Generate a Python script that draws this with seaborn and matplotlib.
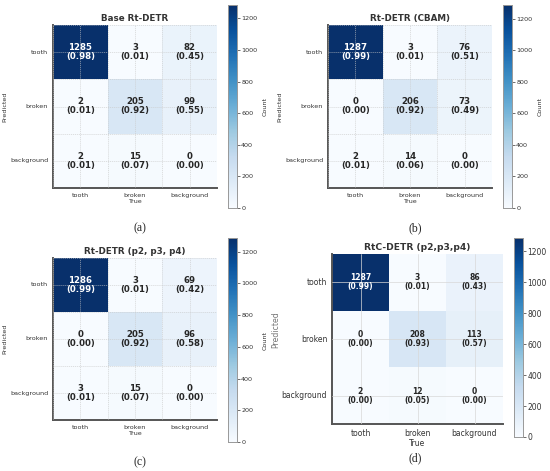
import numpy as np
import matplotlib
matplotlib.use("Agg")
import matplotlib.pyplot as plt
import seaborn as sns

labels = ["tooth", "broken", "background"]
titles = ["Base Rt-DETR", "Rt-DETR (CBAM)", "Rt-DETR (p2, p3, p4)", "RtC-DETR (p2,p3,p4)"]
captions = ["(a)", "(b)", "(c)", "(d)"]

counts_a = [[1285, 3, 82], [2, 205, 99], [2, 15, 0]]
frac_a = [[0.98, 0.01, 0.45], [0.01, 0.92, 0.55], [0.01, 0.07, 0.00]]
counts_b = [[1287, 3, 76], [0, 206, 73], [2, 14, 0]]
frac_b = [[0.99, 0.01, 0.51], [0.00, 0.92, 0.49], [0.01, 0.06, 0.00]]
counts_c = [[1286, 3, 69], [0, 205, 96], [3, 15, 0]]
frac_c = [[0.99, 0.01, 0.42], [0.00, 0.92, 0.58], [0.01, 0.07, 0.00]]
counts_d = [[1287, 3, 86], [0, 208, 113], [2, 12, 0]]
frac_d = [[0.99, 0.01, 0.43], [0.00, 0.93, 0.57], [0.00, 0.05, 0.00]]

all_counts = [counts_a, counts_b, counts_c, counts_d]
all_fracs = [frac_a, frac_b, frac_c, frac_d]

sns.set_style("white")
plt.rcParams['font.family'] = ['DejaVu Sans']

W, H = 550, 471
fig = plt.figure(figsize=(W / 100, H / 100), dpi=100)


def px(l, t, w, h):
    return [l / W, 1 - (t + h) / H, w / W, h / H]


# heatmap box and colorbar box in pixels (left, top, width, height)
heat_boxes = [(53, 25, 164, 163), (328, 25, 164, 163), (53, 258, 164, 162), (332, 254, 171, 170)]
cbar_boxes = [(228, 5, 9, 203), (503, 5, 9, 203), (228, 238, 9, 204), (514, 238, 9, 199)]
caption_pos = [(140, 228), (415, 228), (140, 462), (415, 458)]

for i in range(4):
    counts = np.array(all_counts[i])
    fracs = np.array(all_fracs[i])
    annot = np.array([[f"{counts[r, c]}\n({fracs[r, c]:.2f})" for c in range(3)] for r in range(3)])
    last = i == 3
    tick_fs = 5.5 if last else 4.6
    annot_fs = 5.5 if last else 6.2

    ax = fig.add_axes(px(*heat_boxes[i]))
    cax = fig.add_axes(px(*cbar_boxes[i]))
    sns.heatmap(counts, annot=annot, fmt="", cmap="Blues", ax=ax, cbar_ax=cax,
                xticklabels=labels, yticklabels=labels,
                annot_kws={"fontsize": annot_fs, "fontweight": "bold", "linespacing": 1.0},
                cbar_kws={"label": "" if last else "Count"})
    ax.set_title(titles[i], fontsize=6.3 if not last else 6.6, fontweight="bold", color="#333333", pad=3)
    ax.set_xlabel("True", fontsize=tick_fs, color="#333333", labelpad=1)
    ax.set_ylabel("" if last else "Predicted", fontsize=tick_fs, color="#333333", labelpad=2)
    ax.tick_params(axis="both", labelsize=tick_fs, colors="#333333", length=2, width=0.5, pad=1.5)
    plt.setp(ax.get_yticklabels(), rotation=0)
    plt.setp(ax.get_xticklabels(), rotation=0)

    # grid lines through the cell centres (and along cell edges for a-c)
    ax.set_axisbelow(False)
    if last:
        ax.grid(True, which="major", color="#d8d8d8", linewidth=0.5, linestyle="-")
    else:
        ax.set_xticks([0, 1, 2, 3], minor=True)
        ax.set_yticks([0, 1, 2, 3], minor=True)
        ax.tick_params(which="minor", length=0)
        ax.grid(True, which="both", color="#c8c8c8", linewidth=0.4, linestyle=(0, (2, 1.5)))
    for side in ["left", "bottom"]:
        ax.spines[side].set_visible(True)
        ax.spines[side].set_color("#555555")
        ax.spines[side].set_linewidth(1.4)

    cax.tick_params(labelsize=tick_fs, colors="#333333", length=2, width=0.5, pad=1)
    cax.set_yticks([0, 200, 400, 600, 800, 1000, 1200])
    cax.yaxis.label.set_size(tick_fs)
    cax.yaxis.label.set_color("#333333")
    for sp in cax.spines.values():
        sp.set_visible(True)
        sp.set_color("#999999")
        sp.set_linewidth(0.6)

    cx, cy = caption_pos[i]
    fig.text(cx / W, 1 - cy / H, captions[i], ha="center", va="center",
             fontsize=8.5, family="Liberation Serif")

# the last panel's y label sits on the seam between panels c and d
fig.text(276 / W, 1 - 330 / H, "Predicted", rotation=90, ha="center", va="center",
         fontsize=5.6, color="#777777")

fig.savefig("out.png", dpi=100)
